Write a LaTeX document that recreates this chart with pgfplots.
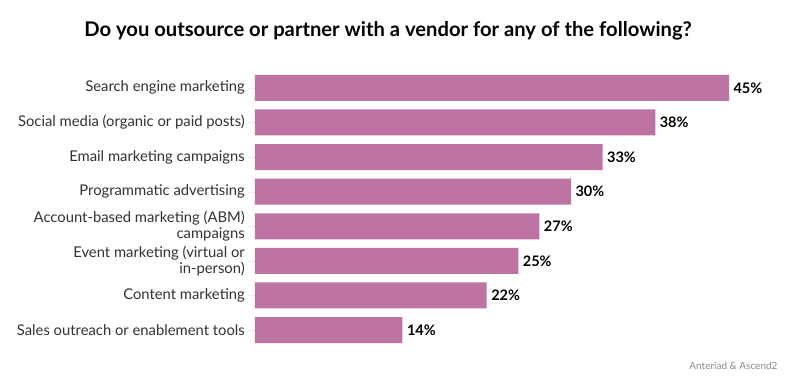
\documentclass[border=0pt]{standalone}
\usepackage{pgfplots}
\pgfplotsset{compat=1.18}
\usepackage{fontspec}
\setmainfont{Lato}
\definecolor{barc}{RGB}{190,116,163}
\definecolor{txt}{RGB}{50,50,50}
\begin{document}
\begin{tikzpicture}[x=1pt,y=1pt]
\useasboundingbox (0,0) rectangle (790,383);
\fill[white] (0,0) rectangle (790,383);
\node[font=\fontsize{20.2}{23}\selectfont\bfseries, text=black] at (388,352) {Do you outsource or partner with a vendor for any of the following?};
\node[font=\fontsize{10}{12}\selectfont, text=gray!90, anchor=east] at (781,17) {Anteriad \& Ascend2};
\begin{axis}[
  at={(255pt,32.2pt)}, anchor=south west,
  scale only axis, width=526.7pt, height=283.7pt,
  xmin=0, xmax=50, ymin=-0.6, ymax=7.6,
  xbar, bar width=26pt,
  axis line style={draw=none},
  xtick=\empty,
  ytick={0,...,7}, ytick pos=left,
  yticklabels={Sales outreach or enablement tools, Content marketing, {Event marketing (virtual or\\in-person)}, {Account-based marketing (ABM)\\campaigns}, Programmatic advertising, Email marketing campaigns, Social media (organic or paid posts), Search engine marketing},
  yticklabel style={align=right, font=\fontsize{14.8}{16.5}\selectfont, text=txt, inner sep=0pt, xshift=-3pt},
  major tick length=7pt,
  y tick style={draw=gray!15},
  /pgf/number format/assume math mode=true,
  nodes near coords={\pgfmathprintnumber{\pgfplotspointmeta}\%},
  nodes near coords style={font=\fontsize{14.5}{16}\selectfont\bfseries, text=black, xshift=1pt},
  clip=false,
]
\addplot[fill=barc, draw=none] coordinates {(14,0) (22,1) (25,2) (27,3) (30,4) (33,5) (38,6) (45,7)};
\end{axis}
\end{tikzpicture}
\end{document}
